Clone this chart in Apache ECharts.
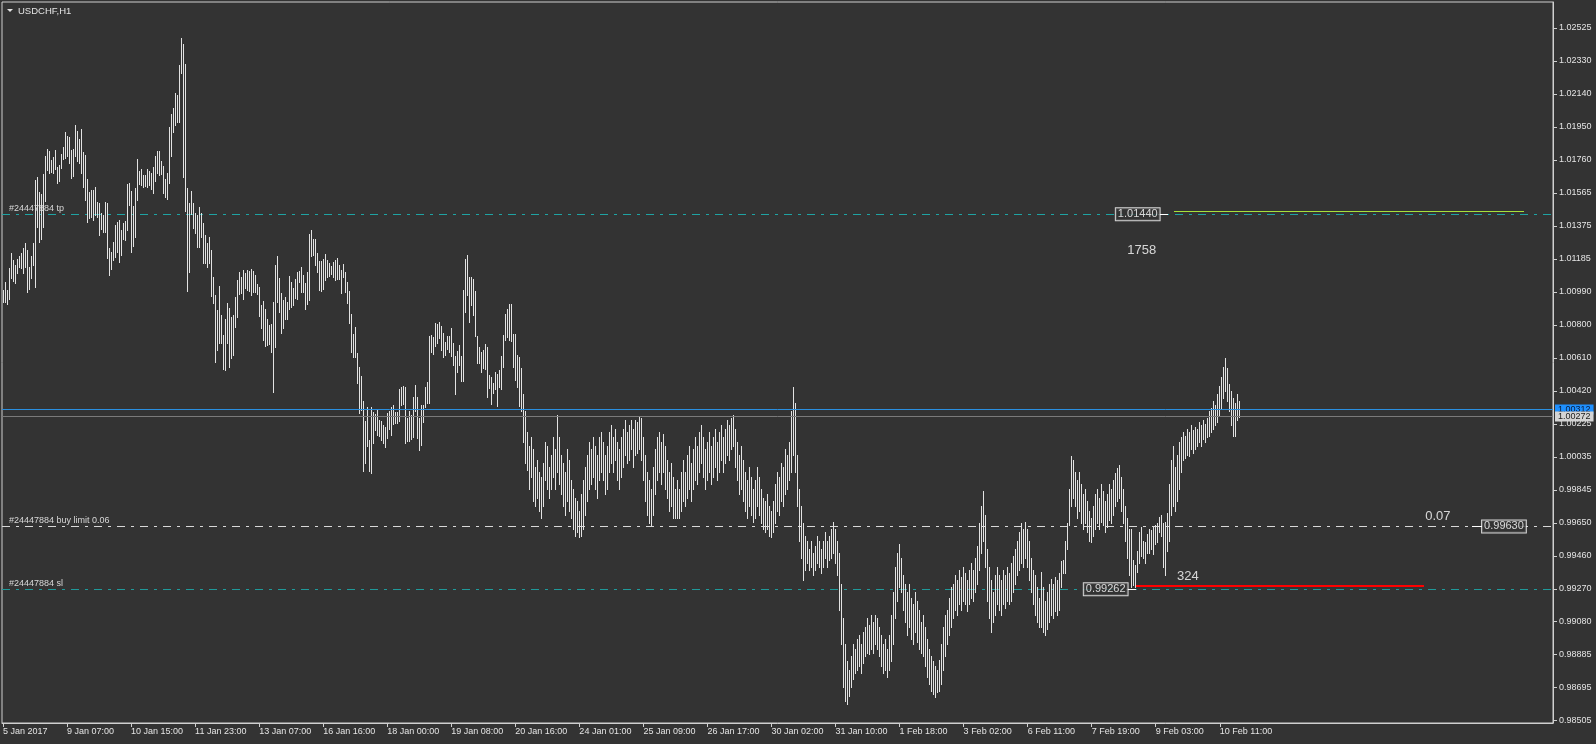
<!DOCTYPE html>
<html><head><meta charset="utf-8">
<script src="https://cdn.jsdelivr.net/npm/echarts@6/dist/echarts.min.js"></script>
<style>html,body{margin:0;padding:0;background:#333333;overflow:hidden}#c{width:1596px;height:744px}</style>
</head><body><div id="c"></div>
<script>
const symbolTitle = 'USDCHF,H1';
const timeLabels = ['5 Jan 2017','9 Jan 07:00','10 Jan 15:00','11 Jan 23:00','13 Jan 07:00','16 Jan 16:00','18 Jan 00:00','19 Jan 08:00','20 Jan 16:00','24 Jan 01:00','25 Jan 09:00','26 Jan 17:00','30 Jan 02:00','31 Jan 10:00','1 Feb 18:00','3 Feb 02:00','6 Feb 11:00','7 Feb 19:00','9 Feb 03:00','10 Feb 11:00'];
const priceLabels = ['0.98505','0.98695','0.98885','0.99080','0.99270','0.99460','0.99650','0.99845','1.00035','1.00225','1.00420','1.00610','1.00800','1.00990','1.01185','1.01375','1.01565','1.01760','1.01950','1.02140','1.02330','1.02525'];
const barHigh = [1.01004,1.01049,1.01004,1.01130,1.01217,1.01179,1.01150,1.01182,1.01202,1.01221,1.01246,1.01275,1.01237,1.01136,1.01202,1.01275,1.01643,1.01662,1.01575,1.01561,
1.01678,1.01782,1.01823,1.01813,1.01759,1.01778,1.01817,1.01716,1.01730,1.01794,1.01832,1.01921,1.01898,1.01890,1.01817,1.01821,1.01960,1.01929,1.01879,1.01937,
1.01807,1.01788,1.01649,1.01571,1.01585,1.01585,1.01604,1.01517,1.01511,1.01453,1.01440,1.01515,1.01507,1.01246,1.01227,1.01285,1.01382,1.01401,1.01411,1.01353,
1.01395,1.01405,1.01619,1.01627,1.01579,1.01492,1.01594,1.01765,1.01697,1.01707,1.01672,1.01672,1.01707,1.01695,1.01681,1.01720,1.01782,1.01811,1.01811,1.01753,
1.01724,1.01650,1.01685,1.01952,1.02026,1.02060,1.02149,1.02136,1.02310,1.02467,1.02432,1.02316,1.01596,1.01511,1.01581,1.01507,1.01449,1.01438,1.01488,1.01449,
1.01395,1.01324,1.01275,1.01310,1.01237,1.01082,1.00975,1.00888,1.01028,1.00861,1.00741,1.00838,1.00931,1.00898,1.00850,1.00859,1.00966,1.01062,1.01111,1.01078,
1.01121,1.01105,1.01121,1.01117,1.01124,1.01117,1.01092,1.01039,1.01020,1.00918,1.00941,1.00893,1.00835,1.00802,1.00808,1.00937,1.01150,1.01202,1.01074,1.00989,
1.00947,1.00962,1.00937,1.01086,1.01051,1.01016,1.01067,1.01109,1.01117,1.01136,1.01092,1.01047,1.01107,1.01330,1.01353,1.01301,1.01303,1.01218,1.01175,1.01171,
1.01183,1.01214,1.01179,1.01160,1.01146,1.01167,1.01179,1.01191,1.01150,1.01121,1.01154,1.01107,1.01053,1.00999,1.00866,1.00748,1.00788,1.00637,1.00558,1.00506,
1.00361,1.00245,1.00324,1.00135,1.00328,1.00297,1.00283,1.00316,1.00251,1.00247,1.00222,1.00208,1.00293,1.00303,1.00324,1.00338,1.00299,1.00299,1.00431,1.00444,
1.00450,1.00444,1.00264,1.00303,1.00280,1.00386,1.00454,1.00386,1.00262,1.00338,1.00340,1.00442,1.00471,1.00740,1.00744,1.00734,1.00815,1.00808,1.00819,1.00796,
1.00757,1.00705,1.00738,1.00738,1.00784,1.00699,1.00622,1.00653,1.00684,1.00622,1.01005,1.01183,1.01208,1.01082,1.01082,1.01069,1.00999,1.00738,1.00672,1.00645,
1.00657,1.00690,1.00672,1.00512,1.00502,1.00467,1.00531,1.00516,1.00541,1.00622,1.00744,1.00866,1.00893,1.00924,1.00924,1.00748,1.00748,1.00628,1.00618,
1.0055,1.0040,1.0030,1.0018,1.0010,1.0015,1.0008,0.9998,1.0002,0.9995,
0.9992,1.0000,1.0012,1.0010,0.9998,1.0005,1.0015,1.0008,1.0028,1.0015,
1.0005,1.0000,0.9995,1.0008,1.0002,0.9990,0.9985,0.9980,0.9978,0.9972,
0.9982,0.9990,0.9998,1.0005,1.0012,1.0008,1.0015,1.0010,1.0005,1.0015,
1.0018,1.0012,1.0005,1.0010,1.0018,1.0022,1.0015,1.0020,1.0012,1.0008,
1.0015,1.0020,1.0025,1.0018,1.0022,1.0025,1.0020,1.0025,1.0024,1.0027,
1.0026,1.0015,1.0005,0.9995,0.9990,0.9985,0.9998,1.0008,1.0015,1.0018,
1.0012,1.0017,1.0010,1.0002,0.9995,1.0000,0.9992,0.9985,0.9990,0.9985,
0.9995,1.0002,0.9995,1.0005,1.0010,1.0000,1.0008,1.0015,1.0010,1.0018,
1.0022,1.0015,1.0008,1.0012,1.0018,1.0010,1.0015,1.0020,1.0012,1.0018,
1.0022,1.0015,1.0020,1.0025,1.0022,1.0026,1.0028,1.0020,1.0012,1.0005,
1.0010,1.0002,0.9995,0.9990,0.9998,0.9992,0.9985,0.9990,0.9998,0.9992,
0.9985,0.9980,0.9978,0.9982,0.9975,0.9972,0.9978,0.9988,0.9995,0.9992,
1.0000,0.9998,1.0008,1.0005,1.0012,1.0030,1.0044,1.0035,1.0005,0.9985,
0.9975,0.9965,0.9958,0.9955,0.9950,0.9955,0.9948,0.9952,0.9958,0.9955,
0.9950,0.9955,0.9960,0.9955,0.9958,0.9962,0.9966,0.9962,0.9955,0.9948,
0.9930,0.9910,0.9895,0.9885,0.9880,0.9888,0.9895,0.9892,0.9898,0.9900,
0.9895,0.9902,0.9905,0.9910,0.9906,0.9912,0.9908,0.9912,0.9910,0.9905,
0.9900,0.9895,0.9898,0.9892,0.9900,0.9912,0.9925,0.9940,0.9948,0.9953,
0.9945,0.9935,0.9930,0.9925,0.9930,0.9922,0.9918,0.9925,0.9920,0.9915,
0.9908,0.9912,0.9905,0.9898,0.9892,0.9888,0.9885,0.9882,0.9880,0.9886,
0.9895,0.9905,0.9912,0.9915,0.9922,0.9928,0.9930,0.9935,0.9932,0.9938,
0.9934,0.9940,0.9936,0.9932,0.9938,0.9942,0.9938,0.9945,0.9952,0.9965,
0.9975,0.9984,0.9970,0.9950,0.9940,0.9932,0.9925,0.9935,0.9940,0.9935,
0.9932,0.9938,0.9935,0.9940,0.9936,0.9942,0.9946,0.9950,0.9955,0.9960,
0.9965,0.9962,0.9966,0.9962,0.9955,0.9945,0.9938,0.9935,0.9928,0.9922,
0.9937,0.9928,0.9920,0.9925,0.9930,0.9933,0.9930,0.9934,0.9932,0.9936,
0.9943,0.9944,0.9955,0.9965,0.9985,1.0004,1.0002,0.9995,0.9990,0.9995,
0.9988,0.9982,0.9985,0.9978,0.9972,0.9968,0.9975,0.9982,0.9985,0.9980,
0.9988,0.9984,0.9978,0.9982,0.9988,0.9985,0.9990,0.9994,0.9997,0.9999,
0.9992,0.9985,0.9975,0.9968,0.9962,0.9962,0.9944,0.9941,0.9949,0.9960,
0.9963,0.9955,0.9954,0.9959,0.9962,0.9961,0.9963,0.9964,0.9965,0.9969,
0.9970,0.9965,0.9966,0.9971,0.9988,1.0002,1.0010,0.9998,1.0005,1.0012,
1.0015,1.0018,1.0016,1.0020,1.0018,1.0022,1.0019,1.0021,1.0020,1.0024,
1.0022,1.0025,1.0023,1.0026,1.0030,1.0032,1.0036,1.0034,1.0040,1.0045,
1.0050,1.0056,1.0061,1.0055,1.0046,1.0042,1.0038,1.0035,1.0040,1.0036];
const barLow = [1.00937,1.00933,1.00921,1.00950,1.01072,1.01059,1.01047,1.01105,1.01136,1.01132,1.01101,1.01140,1.00991,1.01008,1.01074,1.01150,1.01020,1.01372,1.01281,1.01298,
1.01368,1.01523,1.01701,1.01685,1.01691,1.01685,1.01705,1.01627,1.01639,1.01710,1.01763,1.01768,1.01782,1.01743,1.01652,1.01666,1.01782,1.01753,1.01743,1.01681,
1.01604,1.01527,1.01401,1.01420,1.01430,1.01411,1.01440,1.01430,1.01324,1.01356,1.01343,1.01343,1.01192,1.01092,1.01124,1.01179,1.01198,1.01227,1.01169,1.01208,
1.01298,1.01295,1.01353,1.01498,1.01227,1.01260,1.01314,1.01527,1.01619,1.01614,1.01604,1.01608,1.01604,1.01614,1.01589,1.01565,1.01639,1.01685,1.01672,1.01678,
1.01565,1.01546,1.01534,1.01627,1.01782,1.01923,1.01962,1.01981,1.01981,1.02262,1.01662,1.01465,1.01001,1.01111,1.01445,1.01366,1.01333,1.01256,1.01256,1.01314,
1.01159,1.01159,1.01140,1.01159,1.00972,1.00931,1.00589,1.00656,1.00699,1.00699,1.00548,1.00542,1.00699,1.00560,1.00608,1.00627,1.00792,1.00850,1.00981,1.00985,
1.00950,1.01014,1.01004,1.01001,1.00975,1.00995,1.00995,1.00981,1.00856,1.00786,1.00715,1.00680,1.00686,1.00690,1.00647,1.00415,1.00672,1.00937,1.00879,1.00757,
1.00782,1.00835,1.00837,1.00893,1.00904,1.00918,1.00960,1.00951,1.01053,1.00995,1.00995,1.00893,1.00924,1.00947,1.01202,1.01208,1.01150,1.01111,1.01005,1.01001,
1.01013,1.01063,1.01078,1.01086,1.01098,1.01082,1.01063,1.01067,1.01067,1.00989,1.01078,1.00995,1.00931,1.00815,1.00647,1.00618,1.00618,1.00467,1.00293,1.00309,
0.99955,1.00003,1.00100,0.99957,0.99945,1.00115,1.00193,1.00164,1.00158,1.00135,1.00119,1.00096,1.00144,1.00196,1.00164,1.00227,1.00235,1.00235,1.00245,1.00338,
1.00343,1.00119,1.00131,1.00129,1.00138,1.00154,1.00305,1.00148,1.00077,1.00106,1.00241,1.00328,1.00351,1.00347,1.00647,1.00634,1.00680,1.00699,1.00724,1.00657,
1.00614,1.00628,1.00661,1.00647,1.00622,1.00570,1.00401,1.00527,1.00570,1.00479,1.00479,1.00879,1.00976,1.00821,1.00918,1.00860,1.00738,1.00579,1.00583,1.00531,
1.00550,1.00545,1.00386,1.00434,1.00343,1.00405,1.00429,1.00334,1.00444,1.00432,1.00560,1.00715,1.00734,1.00715,1.00711,1.00560,1.00483,1.00444,1.00332,
1.0030,1.0012,1.0000,0.9996,0.9985,0.9992,0.9978,0.9975,0.9980,0.9972,
0.9968,0.9975,0.9990,0.9985,0.9980,0.9985,0.9992,0.9985,0.9995,0.9988,
0.9982,0.9975,0.9970,0.9978,0.9972,0.9968,0.9962,0.9958,0.9960,0.9957,
0.9958,0.9962,0.9970,0.9978,0.9985,0.9988,0.9992,0.9985,0.9980,0.9990,
0.9995,0.9990,0.9982,0.9985,0.9995,1.0000,0.9995,1.0002,0.9990,0.9985,
0.9992,0.9998,1.0005,1.0000,1.0002,1.0008,0.9998,1.0005,1.0006,1.0008,
1.0002,0.9990,0.9978,0.9970,0.9965,0.9964,0.9970,0.9982,0.9990,0.9995,
0.9988,0.9995,0.9985,0.9980,0.9972,0.9975,0.9968,0.9968,0.9968,0.9968,
0.9972,0.9978,0.9975,0.9980,0.9985,0.9978,0.9985,0.9990,0.9988,0.9995,
1.0000,0.9992,0.9985,0.9990,0.9995,0.9988,0.9992,0.9998,0.9990,0.9995,
1.0002,0.9995,1.0000,1.0005,1.0002,1.0008,1.0010,0.9998,0.9990,0.9982,
0.9985,0.9978,0.9972,0.9968,0.9975,0.9970,0.9966,0.9968,0.9975,0.9970,
0.9965,0.9962,0.9960,0.9962,0.9958,0.9957,0.9960,0.9965,0.9972,0.9970,
0.9978,0.9975,0.9982,0.9985,0.9990,0.9995,1.0005,0.9995,0.9975,0.9955,
0.9945,0.9932,0.9938,0.9942,0.9938,0.9940,0.9935,0.9938,0.9942,0.9940,
0.9936,0.9940,0.9945,0.9940,0.9944,0.9945,0.9948,0.9942,0.9935,0.9915,
0.9895,0.9870,0.9862,0.9860,0.9865,0.9870,0.9875,0.9878,0.9880,0.9882,
0.9878,0.9884,0.9888,0.9890,0.9889,0.9892,0.9890,0.9895,0.9892,0.9888,
0.9882,0.9878,0.9880,0.9876,0.9880,0.9885,0.9895,0.9910,0.9920,0.9928,
0.9925,0.9915,0.9908,0.9900,0.9905,0.9898,0.9895,0.9902,0.9896,0.9892,
0.9890,0.9888,0.9882,0.9876,0.9872,0.9868,0.9866,0.9864,0.9867,0.9868,
0.9872,0.9880,0.9888,0.9895,0.9900,0.9905,0.9910,0.9915,0.9912,0.9918,
0.9915,0.9920,0.9918,0.9914,0.9918,0.9922,0.9920,0.9925,0.9930,0.9938,
0.9948,0.9955,0.9940,0.9920,0.9910,0.9902,0.9908,0.9912,0.9918,0.9915,
0.9912,0.9918,0.9916,0.9920,0.9918,0.9920,0.9925,0.9930,0.9935,0.9938,
0.9942,0.9940,0.9945,0.9940,0.9932,0.9925,0.9918,0.9912,0.9908,0.9905,
0.9905,0.9902,0.9900,0.9904,0.9908,0.9912,0.9910,0.9914,0.9912,0.9915,
0.9928,0.9936,0.9936,0.9950,0.9964,0.9975,0.9980,0.9975,0.9968,0.9972,
0.9965,0.9962,0.9965,0.9960,0.9955,0.9954,0.9958,0.9962,0.9965,0.9962,
0.9966,0.9964,0.9960,0.9963,0.9967,0.9965,0.9970,0.9975,0.9978,0.9980,
0.9972,0.9965,0.9955,0.9945,0.9935,0.9928,0.9929,0.9928,0.9937,0.9942,
0.9946,0.9945,0.9942,0.9948,0.9948,0.9950,0.9947,0.9953,0.9954,0.9960,
0.9958,0.9940,0.9935,0.9949,0.9955,0.9970,0.9975,0.9972,0.9978,0.9985,
0.9995,1.0002,1.0003,1.0005,1.0004,1.0008,1.0006,1.0008,1.0010,1.0012,
1.0010,1.0014,1.0012,1.0015,1.0016,1.0018,1.0020,1.0022,1.0024,1.0028,
1.0032,1.0038,1.0042,1.0036,1.0030,1.0022,1.0016,1.0016,1.0025,1.0027];

const askPrice = 1.00312, bidPrice = 1.00272;
const orderLevels = [
  {name: '#24447884 tp', price: 1.01444, color: '#1fa3a3'},
  {name: '#24447884 buy limit 0.06', price: 0.99633, color: '#d8d8d8'},
  {name: '#24447884 sl', price: 0.99268, color: '#1f9a9a'}
];
const priceBoxes = [
  {text: '1.01440', bar: 566.6, price: 1.01444},
  {text: '0.99630', bar: 749.6, price: 0.99633},
  {text: '0.99262', bar: 550.6, price: 0.99268}
];
const infoTexts = [
  {text: '1758', bar: 569, price: 1.01237},
  {text: '324', bar: 592, price: 0.99345},
  {text: '0.07', bar: 717, price: 0.99693}
];
const segments = [
  {from: 584.5, to: 760, price: 1.01461, color: '#a8e03a', width: 1},
  {from: 566, to: 710, price: 0.99285, color: '#ff0000', width: 2},
  {from: 577.2, to: 582, price: 1.01444, color: '#ffffff', width: 1},
  {from: 734, to: 739.4, price: 0.99633, color: '#ffffff', width: 1},
  {from: 561.2, to: 566, price: 0.99268, color: '#ffffff', width: 1}
];

const SLOTS = 775;
const slots = Array.from({length: SLOTS}, (_, i) => String(i));
const FONT = 'Liberation Sans';
const TXT = '#e4e4e4';
const labelMin = 0.98505, labelMax = 1.02525;
const labelStep = (labelMax - labelMin) / (priceLabels.length - 1);

const bars = barHigh.map((h, i) => [i, h, barLow[i]]);
const crisp = (v, w) => (w % 2 === 1 ? Math.round(v) + 0.5 : Math.round(v));

const series = [];
series.push({
  type: 'custom', xAxisIndex: 0, yAxisIndex: 0, z: 1, silent: true, clip: false,
  data: orderLevels.map(o => [0, o.price]),
  renderItem: (params, api) => {
    const o = orderLevels[params.dataIndex];
    const cs = params.coordSys;
    const y = crisp(api.coord([0, api.value(1)])[1], 1);
    return {type: 'group', children: [
      {type: 'line', shape: {x1: cs.x, y1: y, x2: cs.x + cs.width, y2: y},
        style: {stroke: o.color, lineWidth: 1, lineDash: [8, 6, 3, 6]}},
      {type: 'text', style: {x: cs.x + 7, y: y - 1, text: o.name, fill: '#d8d8d8',
        font: '9px "Liberation Sans"', verticalAlign: 'bottom', align: 'left'}}
    ]};
  }
});
series.push({
  type: 'custom', xAxisIndex: 0, yAxisIndex: 0, z: 2, silent: true, clip: false,
  data: segments.map(s => [s.from, s.to, s.price]),
  renderItem: (params, api) => {
    const s = segments[params.dataIndex];
    const a = api.coord([api.value(0), api.value(2)]);
    const b = api.coord([api.value(1), api.value(2)]);
    const y = crisp(a[1], s.width);
    return {type: 'line', shape: {x1: Math.round(a[0]), y1: y, x2: Math.round(b[0]), y2: y},
      style: {stroke: s.color, lineWidth: s.width}};
  }
});
series.push({
  type: 'custom', xAxisIndex: 0, yAxisIndex: 0, z: 3, silent: true,
  data: bars,
  renderItem: (params, api) => {
    const hi = api.coord([api.value(0), api.value(1)]);
    const lo = api.coord([api.value(0), api.value(2)]);
    const x = Math.floor(hi[0]) + 0.5;
    return {type: 'line', shape: {x1: x, y1: Math.round(hi[1]), x2: x, y2: Math.round(lo[1]) + 1},
      style: {stroke: '#e2e2e2', lineWidth: 1}};
  }
});
const quoteLines = [
  {price: askPrice, line: '#2a8fe0', bg: '#1e90ff', fg: '#0a1a3a'},
  {price: bidPrice, line: '#7a7a7a', bg: '#d4d4d4', fg: '#202020'}
];
series.push({
  type: 'custom', xAxisIndex: 0, yAxisIndex: 0, z: 5, silent: true, clip: false,
  data: quoteLines.map(q => [0, q.price]),
  renderItem: (params, api) => {
    const q = quoteLines[params.dataIndex];
    const cs = params.coordSys;
    const y = crisp(api.coord([0, api.value(1)])[1], 1);
    return {type: 'group', children: [
      {type: 'line', shape: {x1: cs.x, y1: y, x2: cs.x + cs.width, y2: y}, style: {stroke: q.line, lineWidth: 1}},
      {type: 'text', z2: 10, style: {x: cs.x + cs.width + 2, y: y, text: q.price.toFixed(5), fill: q.fg,
        font: '9px "Liberation Sans"', verticalAlign: 'middle', align: 'left',
        backgroundColor: q.bg, padding: [1, 3, 0, 3]}}
    ]};
  }
});
series.push({
  type: 'scatter', xAxisIndex: 0, yAxisIndex: 0, silent: true, z: 6, symbolSize: 0,
  data: priceBoxes.map(b => ({value: [b.bar, b.price], label: {formatter: b.text}})),
  label: {show: true, position: 'inside', color: '#ffffff', fontFamily: FONT, fontSize: 11, lineHeight: 11,
    backgroundColor: '#333333', borderColor: '#ffffff', borderWidth: 1, padding: [1, 2, 0, 2]}
});
series.push({
  type: 'scatter', xAxisIndex: 0, yAxisIndex: 0, silent: true, z: 6, symbolSize: 0,
  data: infoTexts.map(b => ({value: [b.bar, b.price], label: {formatter: b.text}})),
  label: {show: true, position: 'inside', color: '#ffffff', fontFamily: FONT, fontSize: 13}
});

const option = {
  backgroundColor: '#333333',
  animation: false,
  grid: [
    {left: 2, top: 2, width: 1551, height: 721, show: true, borderColor: '#d0d0d0', borderWidth: 1,
      backgroundColor: 'transparent', outerBoundsMode: 'none', containLabel: false},
    {left: 2, top: 28, width: 1551, height: 692.7, show: false, outerBoundsMode: 'none', containLabel: false}
  ],
  xAxis: [
    {type: 'category', gridIndex: 0, data: slots, boundaryGap: true,
      axisLine: {show: true, onZero: false, lineStyle: {color: '#d0d0d0'}},
      axisTick: {show: true, alignWithLabel: true, length: 4, lineStyle: {color: '#d0d0d0'},
        interval: (i) => i % 32 === 0 && i / 32 < timeLabels.length},
      axisLabel: {show: true, interval: (i) => i % 32 === 0 && i / 32 < timeLabels.length,
        formatter: (v) => timeLabels[Number(v) / 32] || '', align: 'left', margin: 4,
        color: TXT, fontFamily: FONT, fontSize: 9},
      splitLine: {show: false}},
    {type: 'value', gridIndex: 1, show: false, min: 0, max: 1}
  ],
  yAxis: [
    {type: 'value', gridIndex: 0, position: 'right', min: 0.98492, max: 1.02676,
      axisLine: {show: true, onZero: false, lineStyle: {color: '#d0d0d0'}}, axisTick: {show: false},
      axisLabel: {show: false}, splitLine: {show: false}},
    {type: 'value', gridIndex: 1, position: 'right', min: labelMin, max: labelMax, interval: labelStep,
      axisLine: {show: false, onZero: false}, axisTick: {show: true, length: 4, lineStyle: {color: '#d0d0d0'}},
      axisLabel: {show: true, margin: 6, color: TXT, fontFamily: FONT, fontSize: 9,
        formatter: (v) => { const k = Math.round((v - labelMin) / labelStep); return priceLabels[k] || ''; }},
      splitLine: {show: false}}
  ],
  graphic: [
    {type: 'polygon', shape: {points: [[7, 9], [13, 9], [10, 12]]}, style: {fill: '#e4e4e4'}},
    {type: 'text', left: 18, top: 6, style: {text: symbolTitle, fill: TXT, font: '9.5px "Liberation Sans"'}}
  ],
  series: series
};
const chart = echarts.init(document.getElementById('c'), null, {renderer: 'canvas'});
chart.setOption(option);
</script></body></html>
